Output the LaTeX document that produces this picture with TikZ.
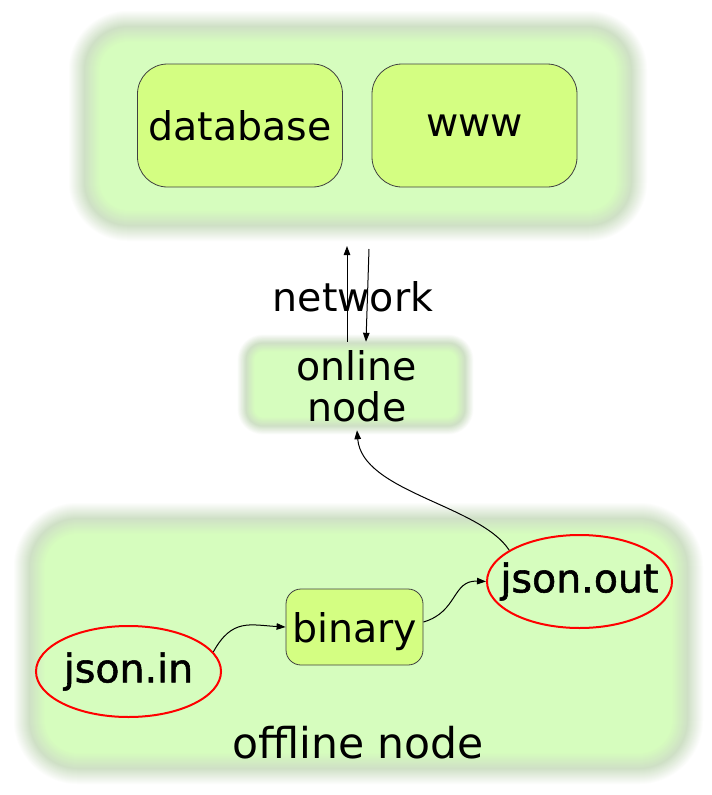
\documentclass[tikz,border=0pt]{standalone}
\usepackage{fontspec}
\setmainfont{DejaVu Sans}
\newfontfamily\jfont[FakeBold=1.4]{DejaVu Sans}
\usetikzlibrary{shapes.geometric,arrows.meta}
\definecolor{clgreen}{RGB}{214,253,190}
\definecolor{ringc}{RGB}{207,224,198}
\definecolor{nodeg}{RGB}{212,254,130}
\newcommand\myblurbox[6]{%
  \foreach \d in {20,19,...,-12}{%
    \pgfmathsetmacro\dd{\d*#6}%
    \ifnum\d>4
      \pgfmathsetmacro\tt{(20-\d)/16*100}%
      \edef\col{ringc!\tt!white}%
    \else
      \pgfmathsetmacro\tt{(4-\d)/16*100}%
      \edef\col{clgreen!\tt!ringc}%
    \fi
    \pgfmathsetmacro\rr{max(#5+\dd,1)}%
    \fill[color=\col, rounded corners=\rr pt] (#1-\dd,#2-\dd) rectangle (#3+\dd,#4+\dd);
  }%
}
\tikzset{
  txt/.style={font=\fontsize{39.5}{41}\selectfont, text=black},
  boxnode/.style={txt, draw=black!75, line width=0.8pt, fill=nodeg, rounded corners=#1, inner sep=0pt},
  boxnode/.default=30pt,
  filenode/.style={ellipse, draw=red, line width=2pt, inner sep=0pt, minimum width=185pt, minimum height=91pt,
    label={[font=\jfont\fontsize{39.5}{41}\selectfont, text=black]center:#1}},
  arr/.style={line width=1pt, -{Triangle[length=9pt,width=6.5pt]}},
}
\begin{document}
\begin{tikzpicture}[x=1pt,y=-1pt]
\useasboundingbox (0,0) rectangle (712,795);
% cluster backgrounds
\myblurbox{88}{30}{628}{222}{40}{1}
\myblurbox{248}{345}{463}{424}{15}{0.55}
\myblurbox{33}{522}{684}{765}{45}{1}
% top cluster
\node[boxnode, minimum width=205pt, minimum height=123pt] (db) at (240,125.5) {database};
\node[boxnode, minimum width=205pt, minimum height=123pt] (www) at (474.5,125.5) {www};
% network
\node[txt] (net) at (353,297) {network};
\node[txt, align=center, minimum width=214pt, minimum height=88pt, inner sep=0pt] (online) at (357,386) {online\\node};
\coordinate (upE) at (347,246);
\coordinate (dnS) at (369,249);
\draw[arr] ([xshift=-10pt]online.north) -- (upE);
\draw[arr] (dnS) -- ([xshift=9pt]online.north);
% bottom cluster
\node[boxnode=15pt, minimum width=137pt, minimum height=76pt, text depth=0pt] (binary) at (354.5,627) {binary};
\node[filenode=json.in] (jin) at (128.5,671.5) {};
\node[filenode=json.out, minimum height=93pt] (jout) at (579.5,581.5) {};
\node[font=\fontsize{42.5}{44}\selectfont] (offline) at (358,743) {offline node};
\draw[arr] (jin.13) .. controls (232,618) and (250,625) .. (binary.west);
\draw[arr] ([yshift=5pt]binary.east) .. controls (458,612) and (452,580) .. (jout.west);
\draw[arr] (jout.156) .. controls (480,505) and (362,492) .. (online.south);
\end{tikzpicture}
\end{document}
